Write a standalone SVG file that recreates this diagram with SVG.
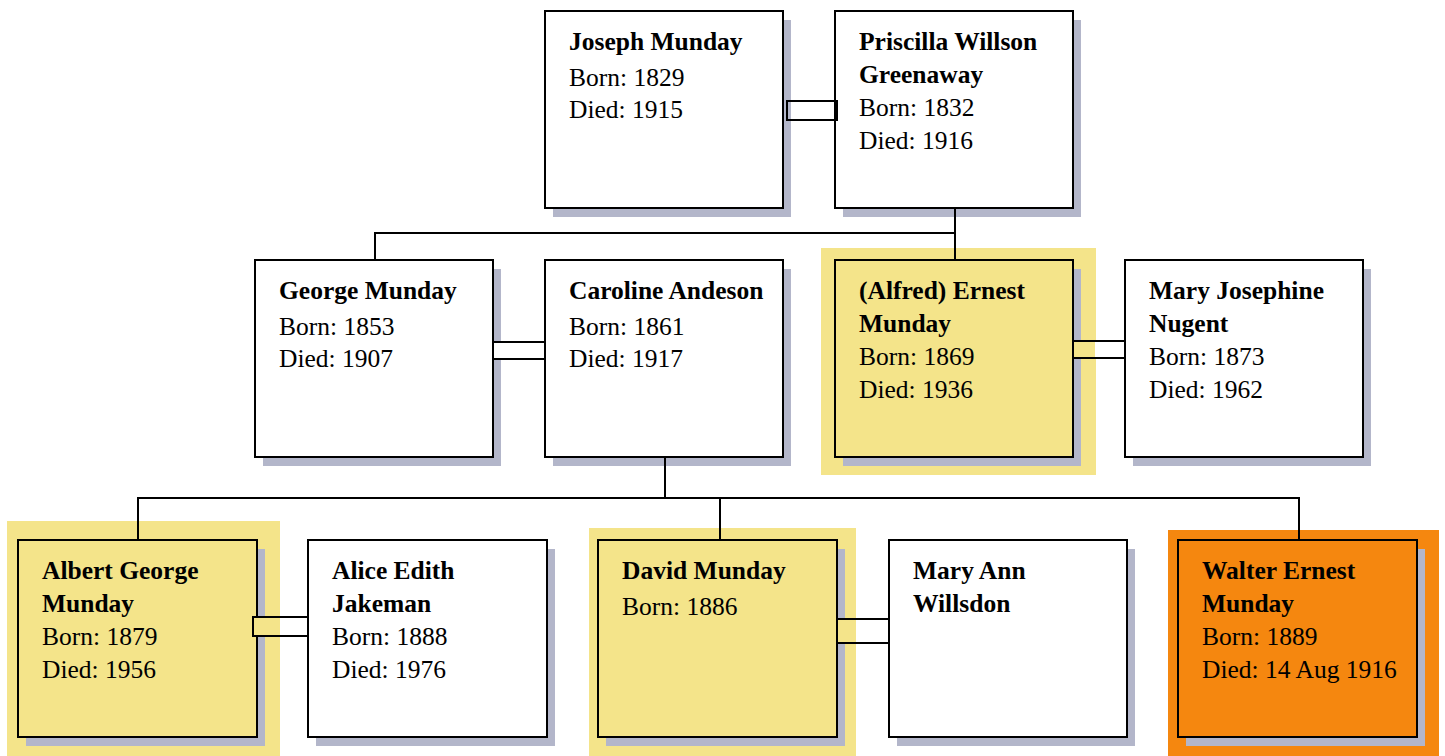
<svg xmlns="http://www.w3.org/2000/svg" width="1445" height="756" viewBox="0 0 1445 756">
<style>
.bg{fill:#ffffff}
.shadow{fill:#b3b6ca}
.box{stroke:#000;stroke-width:2}
.white{fill:#ffffff}
.yellow{fill:#f4e48a}
.orange{fill:#f5870f}
.name{font-family:"Liberation Serif","Times New Roman",serif;font-weight:bold;font-size:25.5px;fill:#000}
.info{font-family:"Liberation Serif","Times New Roman",serif;font-size:25.5px;fill:#000}
.line{stroke:#000;stroke-width:2;fill:none}
</style>
<rect class="bg" x="0" y="0" width="1445" height="756"/>

<g id="joseph">
<rect class="shadow" x="553" y="20" width="238" height="197"/>
<rect class="box white" x="545" y="11" width="238" height="197"/>
<text class="name" x="569" y="49.5">Joseph Munday</text>
<text class="info" x="569" y="85.5">Born: 1829</text>
<text class="info" x="569" y="118">Died: 1915</text>
</g>

<g id="priscilla">
<rect class="shadow" x="843" y="20" width="238" height="197"/>
<rect class="box white" x="835" y="11" width="238" height="197"/>
<text class="name" x="859" y="49.5">Priscilla Willson</text>
<text class="name" x="859" y="82.5">Greenaway</text>
<text class="info" x="859" y="115.5">Born: 1832</text>
<text class="info" x="859" y="148.5">Died: 1916</text>
</g>

<g id="george">
<rect class="shadow" x="263" y="269" width="238" height="197"/>
<rect class="box white" x="255" y="260" width="238" height="197"/>
<text class="name" x="279" y="298.5">George Munday</text>
<text class="info" x="279" y="334.5">Born: 1853</text>
<text class="info" x="279" y="367">Died: 1907</text>
</g>

<g id="caroline">
<rect class="shadow" x="553" y="269" width="238" height="197"/>
<rect class="box white" x="545" y="260" width="238" height="197"/>
<text class="name" x="569" y="298.5">Caroline Andeson</text>
<text class="info" x="569" y="334.5">Born: 1861</text>
<text class="info" x="569" y="367">Died: 1917</text>
</g>

<g id="ernest">
<rect class="yellow" x="821" y="248" width="275" height="227"/>
<rect class="shadow" x="843" y="269" width="238" height="197"/>
<rect class="box yellow" x="835" y="260" width="238" height="197"/>
<text class="name" x="859" y="298.5">(Alfred) Ernest</text>
<text class="name" x="859" y="331.5">Munday</text>
<text class="info" x="859" y="364.5">Born: 1869</text>
<text class="info" x="859" y="397.5">Died: 1936</text>
</g>

<g id="mary-josephine">
<rect class="shadow" x="1133" y="269" width="238" height="197"/>
<rect class="box white" x="1125" y="260" width="238" height="197"/>
<text class="name" x="1149" y="298.5">Mary Josephine</text>
<text class="name" x="1149" y="331.5">Nugent</text>
<text class="info" x="1149" y="364.5">Born: 1873</text>
<text class="info" x="1149" y="397.5">Died: 1962</text>
</g>

<g id="albert">
<rect class="yellow" x="7" y="521" width="273" height="235"/>
<rect class="shadow" x="26" y="549" width="239" height="197"/>
<rect class="box yellow" x="18" y="540" width="239" height="197"/>
<text class="name" x="42" y="578.5">Albert George</text>
<text class="name" x="42" y="611.5">Munday</text>
<text class="info" x="42" y="644.5">Born: 1879</text>
<text class="info" x="42" y="677.5">Died: 1956</text>
</g>

<g id="alice">
<rect class="shadow" x="316" y="549" width="239" height="197"/>
<rect class="box white" x="308" y="540" width="239" height="197"/>
<text class="name" x="332" y="578.5">Alice Edith</text>
<text class="name" x="332" y="611.5">Jakeman</text>
<text class="info" x="332" y="644.5">Born: 1888</text>
<text class="info" x="332" y="677.5">Died: 1976</text>
</g>

<g id="david">
<rect class="yellow" x="589" y="528" width="267" height="228"/>
<rect class="shadow" x="606" y="549" width="239" height="197"/>
<rect class="box yellow" x="598" y="540" width="239" height="197"/>
<text class="name" x="622" y="578.5">David Munday</text>
<text class="info" x="622" y="614.5">Born: 1886</text>
</g>

<g id="mary-ann">
<rect class="shadow" x="897" y="549" width="238" height="197"/>
<rect class="box white" x="889" y="540" width="238" height="197"/>
<text class="name" x="913" y="578.5">Mary Ann</text>
<text class="name" x="913" y="611.5">Willsdon</text>
</g>

<g id="walter">
<rect class="orange" x="1168" y="530" width="271" height="226"/>
<rect class="shadow" x="1186" y="549" width="239" height="197"/>
<rect class="box orange" x="1178" y="540" width="239" height="197"/>
<text class="name" x="1202" y="578.5">Walter Ernest</text>
<text class="name" x="1202" y="611.5">Munday</text>
<text class="info" x="1202" y="644.5">Born: 1889</text>
<text class="info" x="1202" y="677.5">Died: 14 Aug 1916</text>
</g>

<g id="connectors">
<!-- descent lines -->
<path class="line" d="M955 208 V260 M955 233 H375 V260"/>
<path class="line" d="M665 457 V498 M138 540 V498 H1299 V540 M720 498 V540"/>
<!-- marriage: Joseph - Priscilla -->
<rect class="white line" x="787" y="101" width="50" height="19"/>
<!-- marriage: George - Caroline -->
<rect class="white" x="494" y="342" width="50" height="17"/>
<path class="line" d="M493 342 H545 M493 359 H545"/>
<!-- marriage: Ernest - Mary Josephine -->
<rect class="yellow" x="1074" y="341" width="21" height="17"/>
<rect class="white" x="1095" y="341" width="29" height="17"/>
<path class="line" d="M1073 341 H1125 M1073 358 H1125"/>
<!-- marriage: Albert - Alice -->
<rect class="yellow" x="253" y="618" width="27" height="17"/>
<rect class="white" x="280" y="618" width="27" height="17"/>
<rect class="line" x="253" y="617" width="55" height="19"/>
<!-- marriage: David - Mary Ann -->
<rect class="yellow" x="838" y="620" width="18" height="23"/>
<path class="line" d="M837 619 H889 M837 643 H889"/>
</g>
</svg>
